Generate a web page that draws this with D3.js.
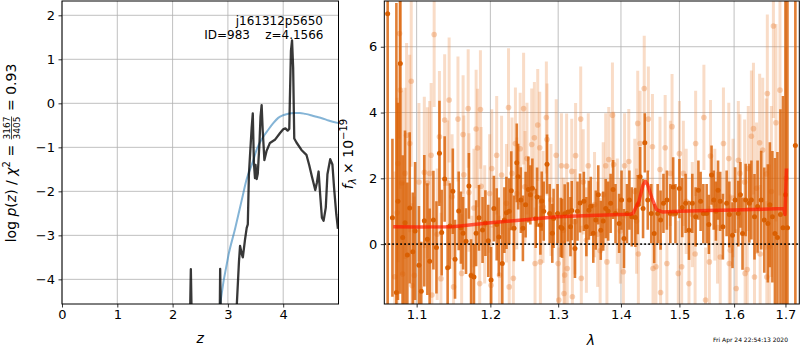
<!DOCTYPE html>
<html>
<head>
<meta charset="utf-8">
<script src="https://cdn.jsdelivr.net/npm/d3@7"></script>
<style>
body { margin: 0; background: #fff; }
svg { font-family: "DejaVu Sans", sans-serif; }
svg text { white-space: pre; }
</style>
</head>
<body>
<div id="vis"></div>
<script>
// p(z) panel
var pzZ = [2.30, 2.32, 2.33, 2.34, 2.36, 2.84, 2.855, 2.86, 2.87, 2.89, 3.13, 3.16, 3.20, 3.22, 3.25, 3.27, 3.31, 3.34, 3.36, 3.38, 3.43, 3.45, 3.47, 3.49, 3.50, 3.52, 3.54, 3.57, 3.59, 3.61, 3.63, 3.66, 3.70, 3.76, 3.85, 3.94, 4.00, 4.04, 4.08, 4.11, 4.12, 4.14, 4.16, 4.18, 4.20, 4.24, 4.33, 4.42, 4.47, 4.52, 4.58, 4.61, 4.64, 4.67, 4.70, 4.73, 4.77, 4.80, 4.85, 4.89, 4.92, 4.96, 4.99];
var pzLog = [-6, -4.5, -3.77, -4.5, -6, -6, -4.5, -3.76, -4.6, -6, -6, -4.6, -3.6, -3.24, -3.42, -3.5, -3.09, -2.83, -2.75, -1.61, -0.55, -0.23, -1.35, -1.70, -1.40, -1.72, -1.60, -0.93, -0.3, -0.04, -0.63, -1.29, -1.08, -0.90, -0.83, -0.68, -0.59, -0.57, -0.62, -0.58, 0.05, 1.19, 1.43, 0.81, -0.80, -0.89, -1.06, -1.17, -1.40, -1.67, -1.97, -1.80, -1.55, -2.10, -2.60, -2.67, -2.37, -1.61, -1.27, -1.39, -1.92, -2.52, -2.85];
var priorZ = [2.80, 2.86, 3.01, 3.13, 3.25, 3.34, 3.45, 3.52, 3.62, 3.73, 3.82, 3.91, 4.00, 4.09, 4.20, 4.30, 4.40, 4.50, 4.58, 4.70, 4.82, 5.00];
var priorLog = [-5.2, -4.56, -3.45, -2.85, -2.2, -1.72, -1.33, -1.05, -0.80, -0.60, -0.45, -0.33, -0.27, -0.235, -0.22, -0.22, -0.24, -0.27, -0.30, -0.34, -0.39, -0.45];
var zTicks = [0, 1, 2, 3, 4];
var pzTicks = [-4, -3, -2, -1, 0, 1, 2];

// spectrum panel
var darkWave = [1.063, 1.069, 1.074, 1.076, 1.079, 1.082, 1.085, 1.088, 1.091, 1.095, 1.098, 1.103, 1.106, 1.110, 1.114, 1.117, 1.122, 1.126, 1.130, 1.133, 1.137, 1.141, 1.144, 1.148, 1.151, 1.156, 1.159, 1.162, 1.166, 1.170, 1.173, 1.177, 1.180, 1.184, 1.189, 1.193, 1.197, 1.201, 1.205, 1.209, 1.212, 1.217, 1.220, 1.223, 1.227, 1.230, 1.234, 1.238, 1.240, 1.244, 1.247, 1.251, 1.255, 1.258, 1.261, 1.266, 1.268, 1.273, 1.275, 1.278, 1.283, 1.287, 1.291, 1.293, 1.299, 1.304, 1.306, 1.310, 1.315, 1.319, 1.321, 1.326, 1.330, 1.334, 1.340, 1.344, 1.348, 1.351, 1.355, 1.359, 1.363, 1.367, 1.371, 1.375, 1.379, 1.383, 1.387, 1.391, 1.397, 1.401, 1.405, 1.410, 1.414, 1.418, 1.424, 1.428, 1.432, 1.437, 1.440, 1.445, 1.451, 1.456, 1.462, 1.467, 1.472, 1.478, 1.484, 1.489, 1.493, 1.500, 1.505, 1.511, 1.517, 1.523, 1.529, 1.534, 1.538, 1.543, 1.549, 1.553, 1.558, 1.562, 1.566, 1.570, 1.574, 1.579, 1.586, 1.591, 1.597, 1.602, 1.608, 1.612, 1.616, 1.622, 1.629, 1.633, 1.639, 1.645, 1.652, 1.658, 1.665, 1.669, 1.674, 1.679, 1.684, 1.690, 1.695, 1.700, 1.704, 1.720];
var darkFlux = [7.00, 0.80, -1.47, 1.30, 5.49, 0.20, 0.65, -0.33, 1.10, -0.23, 0.40, -0.64, -1.43, 0.71, 0.15, -0.52, 0.73, -0.10, 2.76, 0.35, 1.98, -0.72, 0.55, 1.61, -0.46, 1.01, 0.50, 0.33, 0.09, 1.77, -0.95, -1.00, 0.33, 0.80, 0.43, 0.64, 0.10, -1.09, 1.08, 0.60, 0.22, -0.59, 0.73, 0.95, 1.00, 1.62, 0.48, 2.47, 2.05, 1.34, 0.48, 1.20, 1.66, 1.50, 1.70, 0.78, 1.43, 0.58, 1.31, 1.00, 2.43, 0.93, 0.33, 0.78, 0.93, 0.51, 0.48, 0.92, 0.98, 0.53, 1.02, -0.13, 1.00, 1.25, 1.30, 0.53, 1.03, 1.15, 0.33, 0.73, 1.50, 0.42, 0.70, 1.08, 1.00, 1.24, 1.66, 0.93, 0.63, 1.34, 0.17, 0.93, 1.34, 0.83, 0.81, 1.20, 2.05, 1.08, 3.08, 1.34, 0.93, 0.32, 0.93, 0.73, 1.24, 1.34, 0.93, 1.74, 0.93, 1.69, 1.11, 1.24, 0.42, 1.24, 0.83, 1.64, 1.30, 0.93, 0.93, 0.60, 2.10, 1.34, 1.00, 1.64, 1.30, 0.53, 1.24, 0.90, 0.27, 1.34, 0.93, 1.50, 0.32, 1.34, 1.24, 1.34, 0.83, 1.14, 1.34, 0.73, 0.63, 1.20, 0.83, 0.32, 0.20, 0.90, 0.50, 1.50, 0.50, 3.00];
var darkErr = [9.0, 2.4, 8.8, 3.0, 7.0, 2.5, 2.8, 2.2, 2.3, 1.8, 2.1, 1.8, 1.5, 2.0, 1.7, 1.6, 1.5, 1.4, 1.6, 1.3, 1.3, 1.3, 1.3, 1.3, 1.2, 1.2, 1.1, 1.1, 1.0, 1.0, 1.1, 1.0, 1.0, 1.0, 1.0, 1.0, 1.1, 1.0, 1.0, 1.1, 1.2, 1.3, 1.0, 1.1, 1.0, 1.2, 1.0, 1.2, 1.0, 1.0, 1.0, 1.0, 1.0, 0.9, 0.9, 0.9, 0.9, 0.9, 0.9, 0.9, 0.9, 0.9, 0.9, 0.9, 0.9, 0.9, 0.9, 0.9, 0.9, 0.9, 0.9, 0.9, 0.9, 0.9, 0.9, 0.9, 0.9, 0.9, 0.9, 0.9, 0.9, 0.9, 0.9, 0.9, 0.9, 0.9, 0.9, 0.9, 0.9, 0.9, 0.9, 0.9, 0.9, 0.9, 0.9, 0.9, 0.9, 0.9, 0.9, 0.9, 0.9, 0.9, 0.9, 0.9, 0.9, 0.9, 0.9, 0.9, 0.9, 0.9, 0.9, 0.9, 0.9, 0.9, 0.9, 0.9, 0.9, 0.9, 0.9, 0.9, 0.9, 0.9, 0.9, 0.9, 0.9, 1.0, 1.0, 1.0, 1.0, 1.0, 1.0, 1.0, 1.1, 1.1, 1.2, 1.2, 1.3, 1.4, 1.5, 1.6, 1.8, 1.9, 2.0, 2.3, 2.6, 3.2, 4.0, 9.0, 9.0, 9.0];

var lightWave = [1.072, 1.075, 1.076, 1.078, 1.079, 1.081, 1.082, 1.085, 1.087, 1.091, 1.093, 1.094, 1.097, 1.103, 1.110, 1.114, 1.117, 1.119, 1.120, 1.123, 1.127, 1.130, 1.132, 1.137, 1.141, 1.143, 1.147, 1.149, 1.155, 1.160, 1.162, 1.163, 1.169, 1.170, 1.174, 1.177, 1.180, 1.182, 1.185, 1.186, 1.187, 1.192, 1.199, 1.201, 1.202, 1.209, 1.213, 1.216, 1.223, 1.226, 1.227, 1.231, 1.233, 1.236, 1.238, 1.243, 1.248, 1.250, 1.253, 1.260, 1.264, 1.265, 1.269, 1.272, 1.273, 1.277, 1.282, 1.283, 1.289, 1.297, 1.300, 1.301, 1.305, 1.308, 1.309, 1.310, 1.313, 1.314, 1.321, 1.322, 1.326, 1.327, 1.335, 1.336, 1.339, 1.344, 1.347, 1.357, 1.362, 1.366, 1.371, 1.375, 1.377, 1.380, 1.386, 1.388, 1.394, 1.399, 1.404, 1.406, 1.413, 1.423, 1.426, 1.428, 1.429, 1.432, 1.439, 1.446, 1.453, 1.454, 1.459, 1.466, 1.467, 1.475, 1.478, 1.484, 1.487, 1.498, 1.500, 1.504, 1.507, 1.512, 1.517, 1.523, 1.528, 1.529, 1.544, 1.547, 1.554, 1.556, 1.564, 1.569, 1.574, 1.580, 1.590, 1.591, 1.593, 1.598, 1.604, 1.608, 1.611, 1.620, 1.621, 1.625, 1.627, 1.633, 1.637, 1.639, 1.643, 1.649, 1.650, 1.655, 1.662, 1.663, 1.664, 1.668, 1.672, 1.676, 1.681, 1.689, 1.701];
var lightFlux = [-0.99, 0.95, 2.45, 6.40, 4.68, 1.86, -0.91, 2.15, 3.31, 3.06, 4.95, -1.26, -0.95, 1.89, 2.18, 1.86, 2.15, 2.70, -1.55, 6.37, 0.30, 3.26, -1.05, 3.77, 1.86, 4.38, 1.44, -1.30, 3.80, -0.89, 3.33, 2.11, 4.12, 1.57, -0.94, 1.10, 3.50, 2.92, -1.20, 4.09, 1.76, 0.60, 1.54, -1.25, 2.30, 2.70, -0.94, 2.10, 1.24, 4.15, -1.30, 2.15, -1.04, 3.06, 1.54, 2.90, 4.12, 1.74, 2.60, 3.03, 3.23, -0.59, 3.62, 2.93, -0.54, 1.13, 3.85, 3.18, 1.34, 2.70, -0.59, -1.70, 2.38, 0.42, -1.50, -0.94, 2.37, -0.74, 2.21, -1.60, 0.68, 2.69, 3.80, -1.04, 1.89, 0.12, 2.38, 1.20, 0.30, -0.20, 1.50, 2.38, -0.54, 2.57, 3.92, 2.42, 1.00, 0.40, -0.84, 2.38, 2.51, 1.60, 0.70, 3.67, -0.30, 3.06, 4.73, 3.80, 2.96, -0.74, -0.69, 2.27, -1.47, 2.93, -0.59, 2.15, 3.57, -0.89, 2.75, -0.69, 2.15, 1.30, -1.20, 0.90, -0.30, 3.06, 3.85, -1.70, -0.54, 2.68, 1.20, 0.50, -0.39, 3.06, 2.60, -0.59, -0.19, 1.40, -1.35, 2.55, 2.15, 1.89, -0.89, -0.77, 2.30, 3.28, 3.51, -1.00, 1.70, 3.08, -0.30, 2.86, 2.13, -1.00, 4.58, -0.08, 1.60, 6.63, 3.69, 4.68, 2.00];
var lightErr = [3.2, 3.5, 3.0, 3.2, 3.0, 2.8, 2.8, 2.6, 2.8, 2.7, 2.6, 2.5, 2.4, 2.4, 2.3, 2.3, 2.2, 2.2, 2.0, 2.2, 2.0, 2.0, 2.0, 2.0, 1.9, 1.9, 1.9, 1.9, 1.9, 1.8, 1.8, 1.8, 1.8, 1.8, 1.8, 1.8, 1.8, 1.8, 1.8, 1.8, 1.8, 1.8, 1.8, 1.8, 1.8, 1.8, 1.8, 1.8, 1.8, 1.8, 1.8, 1.7, 1.7, 1.7, 1.7, 1.7, 1.7, 1.7, 1.7, 1.7, 1.7, 1.7, 1.7, 1.7, 1.7, 1.7, 1.7, 1.7, 1.7, 1.7, 1.6, 1.6, 1.6, 1.6, 1.6, 1.6, 1.6, 1.6, 1.6, 1.6, 1.6, 1.6, 1.6, 1.6, 1.6, 1.6, 1.6, 1.6, 1.6, 1.6, 1.6, 1.6, 1.6, 1.6, 1.6, 1.6, 1.6, 1.6, 1.6, 1.6, 1.6, 1.6, 1.6, 1.6, 1.6, 1.6, 1.6, 1.6, 1.6, 1.6, 1.6, 1.6, 1.6, 1.6, 1.6, 1.6, 1.6, 1.6, 1.6, 1.6, 1.6, 1.6, 1.6, 1.6, 1.6, 1.6, 1.6, 1.6, 1.7, 1.7, 1.7, 1.7, 1.7, 1.7, 1.7, 1.7, 1.7, 1.8, 1.8, 1.8, 1.8, 1.9, 1.9, 1.9, 1.9, 2.0, 2.0, 2.0, 2.0, 2.1, 2.1, 2.2, 2.3, 2.3, 2.4, 2.5, 2.6, 2.8, 3.0, 3.2, 4.0];

var modelWave = [1.070, 1.100, 1.148, 1.200, 1.250, 1.298, 1.350, 1.415, 1.420, 1.430, 1.437, 1.441, 1.445, 1.452, 1.460, 1.470, 1.500, 1.550, 1.600, 1.650, 1.697, 1.699, 1.702];
var modelFlux = [0.53, 0.52, 0.53, 0.65, 0.74, 0.83, 0.87, 0.91, 0.93, 1.30, 1.80, 1.91, 1.80, 1.40, 1.05, 0.98, 1.00, 1.02, 1.04, 1.06, 1.08, 0.90, 2.30];
var waveTicks = [1.1, 1.2, 1.3, 1.4, 1.5, 1.6, 1.7];
var fluxTicks = [0, 2, 4, 6];

var w = 800, h = 350;
var svg = d3.select("#vis").append("svg").attr("width", w).attr("height", h);
svg.append("rect").attr("width", w).attr("height", h).attr("fill", "#fff");
var defs = svg.append("defs");

function styleAxis(g) {
	g.select(".domain").remove();
	g.attr("font-size", 13).attr("font-family", "DejaVu Sans, sans-serif");
	g.selectAll(".tick line").attr("stroke", "#000").attr("stroke-width", 0.8);
	g.selectAll(".tick text").attr("fill", "#000");
}

function panel(id, x, y, xt, yt, xfmt, yfmt) {
	var left = x.range()[0], right = x.range()[1];
	var top = y.range()[1], bottom = y.range()[0];
	defs.append("clipPath").attr("id", id)
		.append("rect")
		.attr("x", left).attr("y", top)
		.attr("width", right - left).attr("height", bottom - top);

	var grid = svg.append("g").attr("stroke", "#b0b0b0").attr("stroke-width", 0.8);
	grid.selectAll(".gx").data(xt).enter().append("line")
		.attr("x1", function(d) { return x(d); })
		.attr("x2", function(d) { return x(d); })
		.attr("y1", top).attr("y2", bottom);
	grid.selectAll(".gy").data(yt).enter().append("line")
		.attr("y1", function(d) { return y(d); })
		.attr("y2", function(d) { return y(d); })
		.attr("x1", left).attr("x2", right);

	svg.append("g").attr("transform", "translate(0," + bottom + ")")
		.call(d3.axisBottom(x).tickValues(xt).tickFormat(xfmt).tickSize(3.5).tickPadding(2.5))
		.call(styleAxis);
	svg.append("g").attr("transform", "translate(" + left + ",0)")
		.call(d3.axisLeft(y).tickValues(yt).tickFormat(yfmt).tickSize(3.5).tickPadding(3.5))
		.call(styleAxis);

	return svg.append("g").attr("clip-path", "url(#" + id + ")");
}

function frame(x, y) {
	svg.append("rect")
		.attr("x", x.range()[0]).attr("y", y.range()[1])
		.attr("width", x.range()[1] - x.range()[0])
		.attr("height", y.range()[0] - y.range()[1])
		.attr("fill", "none").attr("stroke", "#000").attr("stroke-width", 1);
}

// ---- left: p(z)
var zScale = d3.scaleLinear().domain([0, 5]).range([62, 338.5]);
var pScale = d3.scaleLinear().domain([-4.56, 2.325]).range([304, 1]);
var pz = panel("clipL", zScale, pScale, zTicks, pzTicks, d3.format("d"), d3.format("d"));

var priorLine = d3.line()
	.x(function(d, i) { return zScale(priorZ[i]); })
	.y(function(d) { return pScale(d); })
	.curve(d3.curveMonotoneX);
pz.append("path").datum(priorLog).attr("d", priorLine)
	.attr("fill", "none").attr("stroke", "#1f77b4").attr("stroke-opacity", 0.55).attr("stroke-width", 2);

var pzLine = d3.line()
	.x(function(d, i) { return zScale(pzZ[i]); })
	.y(function(d) { return pScale(d); });
pz.append("path").datum(pzLog).attr("d", pzLine)
	.attr("fill", "none").attr("stroke", "#000").attr("stroke-opacity", 0.78)
	.attr("stroke-width", 2.3).attr("stroke-linejoin", "round");
frame(zScale, pScale);

var note = svg.append("g").attr("font-size", 12).attr("text-anchor", "end");
note.append("text").attr("x", 323).attr("y", 24.5).text("j161312p5650");
note.append("text").attr("x", 323.5).attr("y", 38.5).text("ID=983    z=4.1566");

svg.append("text").attr("x", zScale(2.5)).attr("y", 343).attr("text-anchor", "middle")
	.attr("font-size", 14).attr("font-style", "italic").text("z");

// y label with stacked fraction
var lab = svg.append("g").attr("transform", "translate(16,153) rotate(-90)");
var labIn = lab.append("g");
var t1 = labIn.append("text").attr("font-size", 14);
t1.append("tspan").text("log ");
t1.append("tspan").attr("font-style", "italic").text("p");
t1.append("tspan").text("(");
t1.append("tspan").attr("font-style", "italic").text("z");
t1.append("tspan").text(") / ");
t1.append("tspan").attr("font-style", "italic").text("χ");
t1.append("tspan").attr("font-size", 10).attr("dy", -6).text("2");
t1.append("tspan").attr("dy", 6).text(" = ");
var w1 = t1.node().getComputedTextLength();
var num = labIn.append("text").attr("font-size", 9).attr("x", w1 + 1).attr("y", -6).text("3167");
var den = labIn.append("text").attr("font-size", 9).attr("x", w1 + 1).attr("y", 4).text("3405");
var fw = Math.max(num.node().getComputedTextLength(), den.node().getComputedTextLength());
labIn.append("line").attr("x1", w1 + 1).attr("x2", w1 + 1 + fw)
	.attr("y1", -4.5).attr("y2", -4.5).attr("stroke", "#000").attr("stroke-width", 0.7);
var t3 = labIn.append("text").attr("font-size", 14).attr("x", w1 + fw + 2).text(" = 0.93");
var total = w1 + fw + 2 + t3.node().getComputedTextLength();
labIn.attr("transform", "translate(" + (-total / 2) + ",0)");

// ---- right: spectrum
var wScale = d3.scaleLog().domain([1.0588, 1.728]).range([384.3, 799.3]);
var fScale = d3.scaleLinear().domain([-1.82, 7.39]).range([304, 1]);
var sp = panel("clipR", wScale, fScale, waveTicks, fluxTicks, d3.format(".1f"), d3.format("d"));

var orange = "#d95f02";
sp.selectAll(".lbar").data(lightFlux).enter().append("line")
	.attr("x1", function(d, i) { return wScale(lightWave[i]); })
	.attr("x2", function(d, i) { return wScale(lightWave[i]); })
	.attr("y1", function(d, i) { return fScale(d - lightErr[i]); })
	.attr("y2", function(d, i) { return fScale(d + lightErr[i]); })
	.attr("stroke", "#ea8a45").attr("stroke-opacity", 0.3).attr("stroke-width", 3);
sp.selectAll(".ldot").data(lightFlux).enter().append("circle")
	.attr("cx", function(d, i) { return wScale(lightWave[i]); })
	.attr("cy", function(d) { return fScale(d); })
	.attr("r", 2.8)
	.attr("fill", "#ea8a45").attr("fill-opacity", 0.4);

sp.selectAll(".dbar").data(darkFlux).enter().append("line")
	.attr("x1", function(d, i) { return wScale(darkWave[i]); })
	.attr("x2", function(d, i) { return wScale(darkWave[i]); })
	.attr("y1", function(d, i) { return fScale(d - darkErr[i]); })
	.attr("y2", function(d, i) { return fScale(d + darkErr[i]); })
	.attr("stroke", orange).attr("stroke-opacity", 0.8).attr("stroke-width", 2.6);
sp.selectAll(".ddot").data(darkFlux).enter().append("circle")
	.attr("cx", function(d, i) { return wScale(darkWave[i]); })
	.attr("cy", function(d) { return fScale(d); })
	.attr("r", 2.5)
	.attr("fill", orange);

var modelLine = d3.line()
	.x(function(d, i) { return wScale(modelWave[i]); })
	.y(function(d) { return fScale(d); });
sp.append("path").datum(modelFlux).attr("d", modelLine)
	.attr("fill", "none").attr("stroke", "#ff1a00").attr("stroke-opacity", 0.7)
	.attr("stroke-width", 3.5).attr("stroke-linejoin", "round");

sp.append("line")
	.attr("x1", 384.3).attr("x2", 799.3)
	.attr("y1", fScale(0)).attr("y2", fScale(0))
	.attr("stroke", "#000").attr("stroke-width", 1.6).attr("stroke-dasharray", "1.6,2.4");
frame(wScale, fScale);

svg.append("text").attr("x", 591).attr("y", 345).attr("text-anchor", "middle")
	.attr("font-size", 14).attr("font-style", "italic").text("λ");

var flab = svg.append("text").attr("transform", "translate(353,154) rotate(-90)")
	.attr("text-anchor", "middle").attr("font-size", 14);
flab.append("tspan").attr("font-style", "italic").text("f");
flab.append("tspan").attr("font-size", 10).attr("font-style", "italic").attr("dy", 3).text("λ");
flab.append("tspan").attr("dy", -3).text(" × 10");
flab.append("tspan").attr("font-size", 10).attr("dy", -6).text("−19");

svg.append("text").attr("x", 788).attr("y", 341.5).attr("text-anchor", "end")
	.attr("font-size", 6).text("Fri Apr 24 22:54:13 2020");
</script>
</body>
</html>
